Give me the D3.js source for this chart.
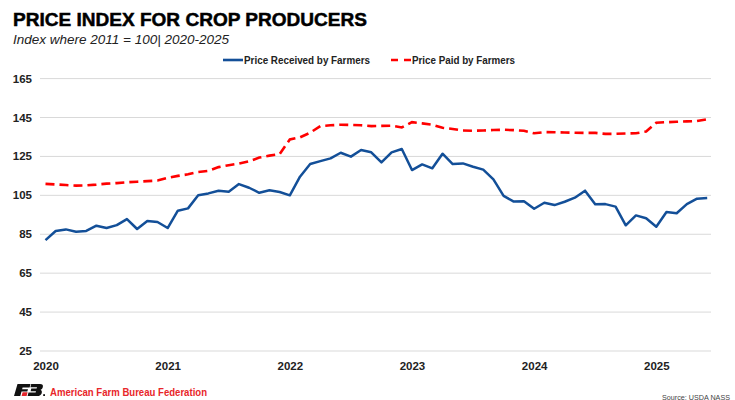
<!DOCTYPE html>
<html>
<head>
<meta charset="utf-8">
<script src="https://cdn.jsdelivr.net/npm/d3@7"></script>
<style>
  body { margin: 0; background: #fff; }
  text { font-family: "Liberation Sans", Arial, sans-serif; }
</style>
</head>
<body>
<svg id="chart" width="735" height="400"></svg>
<script>
// Monthly index values, Jan 2020 - Jun 2025 (2011 = 100)
const priceReceived = [
  82.0, 86.7, 87.5, 86.3, 86.7, 89.4, 88.2, 89.7, 92.8, 87.7, 91.8, 91.3,
  88.2, 97.1, 98.3, 105.1, 106.0, 107.4, 106.9, 110.8, 108.9, 106.3, 107.6, 106.7,
  105.0, 114.6, 121.1, 122.6, 124.0, 126.9, 124.9, 128.3, 127.1, 121.9, 127.1, 128.8,
  118.0, 120.9, 118.9, 126.4, 121.1, 121.4, 119.7, 118.2, 113.2, 104.7, 101.8, 102.0,
  98.1, 101.2, 100.0, 101.7, 103.8, 107.4, 100.4, 100.5, 99.2, 89.6, 94.7, 93.2,
  88.9, 96.4, 95.8, 100.5, 103.3, 103.6
];
const pricePaid = [
  110.9, 110.6, 110.3, 110.0, 110.1, 110.5, 111.0, 111.3, 111.7, 112.0, 112.3, 112.6,
  114.0, 115.0, 115.8, 117.0, 117.6, 119.5, 120.5, 121.3, 122.5, 124.4, 125.4, 126.2,
  133.7, 134.8, 137.2, 140.6, 141.0, 141.3, 141.2, 141.0, 140.6, 140.7, 140.8, 139.9,
  142.6, 142.0, 141.3, 139.7, 139.1, 138.3, 138.2, 138.3, 138.6, 138.7, 138.5, 138.2,
  136.9, 137.5, 137.4, 137.3, 137.2, 137.1, 137.1, 136.6, 136.6, 136.8, 136.9, 137.8,
  142.3, 142.6, 142.8, 143.0, 143.2, 144.1
];
const yearLabels = ["2020", "2021", "2022", "2023", "2024", "2025"];
const yTicks = [25, 45, 65, 85, 105, 125, 145, 165];

const svg = d3.select("#chart");
const blue = "#134f98";
const red = "#ff0000";

// scales: month index on x
const x = d3.scaleLinear().domain([0, 65]).range([45.5, 707.2]);
const y = d3.scaleLinear().domain([25, 165]).range([351, 78.6]);

// title block
svg.append("text")
  .attr("x", 13).attr("y", 25.5)
  .attr("font-size", 19).attr("font-weight", "bold")
  .attr("stroke", "#000").attr("stroke-width", 0.5)
  .attr("textLength", 354).attr("lengthAdjust", "spacingAndGlyphs")
  .text("PRICE INDEX FOR CROP PRODUCERS");

svg.append("text")
  .attr("x", 13).attr("y", 44)
  .attr("font-size", 13.5).attr("font-style", "italic")
  .attr("fill", "#222")
  .text("Index where 2011 = 100| 2020-2025");

// gridlines + y labels
const grid = svg.append("g");
grid.selectAll("line")
  .data(yTicks)
  .enter()
  .append("line")
  .attr("x1", 40).attr("x2", 711)
  .attr("y1", d => y(d)).attr("y2", d => y(d))
  .attr("stroke", "#d9d9d9").attr("stroke-width", 1);

grid.selectAll("text")
  .data(yTicks)
  .enter()
  .append("text")
  .attr("x", 32).attr("y", d => y(d) + 4)
  .attr("text-anchor", "end")
  .attr("font-size", 11.5).attr("font-weight", "bold")
  .attr("fill", "#222")
  .text(d => d);

// x axis labels (one per January)
const xAxis = d3.axisBottom(x)
  .tickValues(yearLabels.map((d, i) => i * 12))
  .tickFormat((d, i) => yearLabels[i])
  .tickSize(0)
  .tickPadding(0);

const gx = svg.append("g").attr("transform", "translate(0,361.5)").call(xAxis);
gx.select(".domain").remove();
gx.selectAll("text")
  .attr("font-family", "Liberation Sans, Arial, sans-serif")
  .attr("font-size", 11.5).attr("font-weight", "bold")
  .attr("fill", "#222")
  .attr("dy", "0.71em");

// lines
const line = d3.line()
  .x((d, i) => x(i))
  .y(d => y(d));

svg.append("path")
  .datum(pricePaid)
  .attr("d", line)
  .attr("fill", "none")
  .attr("stroke", red)
  .attr("stroke-width", 2.6)
  .attr("stroke-dasharray", "9,5");

svg.append("path")
  .datum(priceReceived)
  .attr("d", line)
  .attr("fill", "none")
  .attr("stroke", blue)
  .attr("stroke-width", 2.5)
  .attr("stroke-linejoin", "round");

// legend
const legend = svg.append("g");
legend.append("line")
  .attr("x1", 223).attr("x2", 243).attr("y1", 60).attr("y2", 60)
  .attr("stroke", blue).attr("stroke-width", 2.6);
legend.append("text")
  .attr("x", 244).attr("y", 63.5)
  .attr("font-size", 10).attr("font-weight", "bold").attr("fill", "#222")
  .attr("textLength", 126).attr("lengthAdjust", "spacingAndGlyphs")
  .text("Price Received by Farmers");
legend.append("line")
  .attr("x1", 391).attr("x2", 411).attr("y1", 60).attr("y2", 60)
  .attr("stroke", red).attr("stroke-width", 2.6)
  .attr("stroke-dasharray", "7,6");
legend.append("text")
  .attr("x", 412).attr("y", 63.5)
  .attr("font-size", 10).attr("font-weight", "bold").attr("fill", "#222")
  .attr("textLength", 103).attr("lengthAdjust", "spacingAndGlyphs")
  .text("Price Paid by Farmers");

// footer logo
const logo = svg.append("g");
logo.append("path")
  .attr("d", "M17.5,384 L30.5,384 L29.6,387.4 L22.6,387.4 L22.1,389.3 L28,389.3 L27.3,391.6 L21.5,391.6 L20.3,396 L14,396 Z")
  .attr("fill", "#111");
logo.append("path")
  .attr("d", "M22.6,392.2 L27.6,392.2 L26.6,396 L21.6,396 Z")
  .attr("fill", "#e4252b");
logo.append("path")
  .attr("d", "M31.2,384 L40,384 Q43.6,384 42.8,387.2 Q42.3,389.2 40.6,389.8 Q42.4,390.6 41.8,392.9 Q41,396 37,396 L27.6,396 L28.5,392.6 L35.6,392.6 L36,391.2 L30.6,391.2 L31.3,388.6 L36.6,388.6 L37,387.3 L30.4,387.3 Z")
  .attr("fill", "#111");
logo.append("rect")
  .attr("x", 43.2).attr("y", 394.2).attr("width", 1.8).attr("height", 1.8)
  .attr("fill", "#111");

svg.append("text")
  .attr("x", 50).attr("y", 396)
  .attr("font-size", 11).attr("font-weight", "bold")
  .attr("fill", "#e8262a")
  .attr("textLength", 157).attr("lengthAdjust", "spacingAndGlyphs")
  .text("American Farm Bureau Federation");

svg.append("text")
  .attr("x", 662).attr("y", 399.5)
  .attr("font-size", 7.5).attr("fill", "#444")
  .attr("textLength", 68).attr("lengthAdjust", "spacingAndGlyphs")
  .text("Source: USDA NASS");
</script>
</body>
</html>
